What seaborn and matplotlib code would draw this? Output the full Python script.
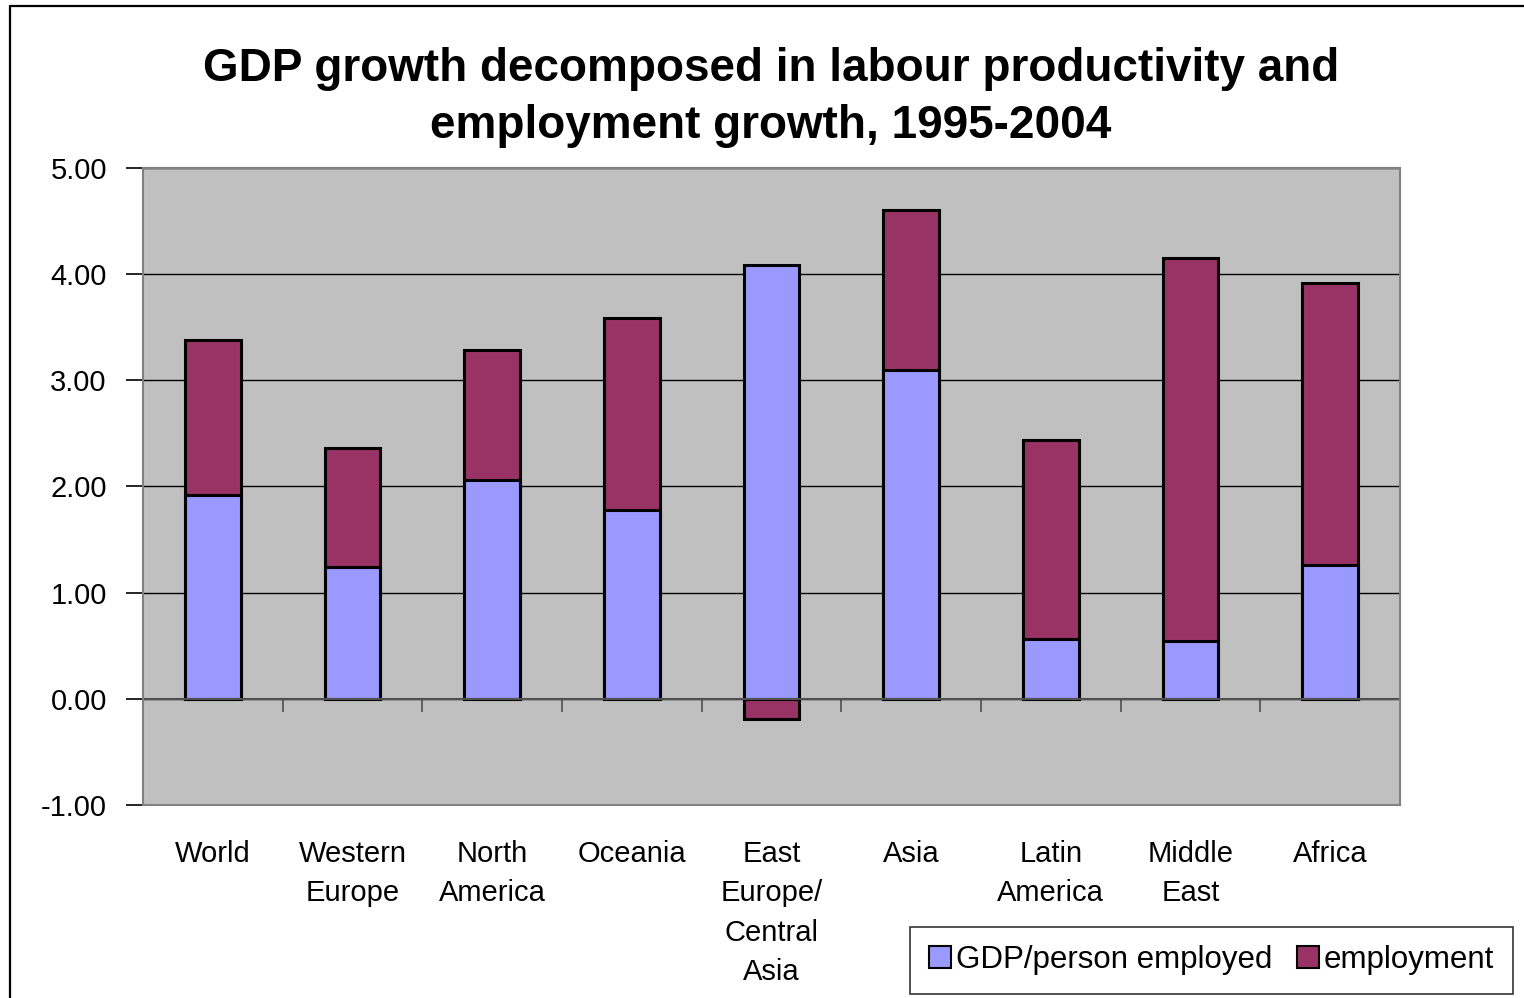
import numpy as np
import pandas as pd
import matplotlib
matplotlib.use("Agg")
import matplotlib.pyplot as plt
from matplotlib.patches import Patch
from matplotlib.lines import Line2D
import seaborn as sns

regions = ["World", "Western\nEurope", "North\nAmerica", "Oceania",
           "East\nEurope/\nCentral\nAsia", "Asia", "Latin\nAmerica",
           "Middle\nEast", "Africa"]
gdp_per_person = [1.92, 1.24, 2.06, 1.78, 4.09, 3.10, 0.56, 0.54, 1.26]
employment = [1.46, 1.12, 1.23, 1.81, -0.19, 1.50, 1.88, 3.61, 2.66]
y_ticks = [-1.0, 0.0, 1.0, 2.0, 3.0, 4.0, 5.0]

GDP_COLOR = "#9999FF"
EMP_COLOR = "#993366"
PLOT_BG = "#C0C0C0"

sns.set_theme(style="white")
plt.rcParams["font.family"] = ["Liberation Sans", "DejaVu Sans"]
plt.rcParams["text.color"] = "black"
plt.rcParams["xtick.color"] = "black"
plt.rcParams["ytick.color"] = "black"

gdp = np.array(gdp_per_person)
emp = np.array(employment)
# positive employment stacks on top of GDP/person, negative goes below zero
emp_top = np.where(emp >= 0, gdp + emp, emp)

df = pd.DataFrame({"region": regions, "gdp": gdp, "emp_top": emp_top})

fig = plt.figure(figsize=(15.24, 9.98), dpi=100)
ax = fig.add_axes([0.0938, 0.1934, 0.8248, 0.6383])
ax.set_facecolor(PLOT_BG)

bar_kw = dict(width=0.4, edgecolor="black", linewidth=2.2, saturation=1, ax=ax)
sns.barplot(data=df, x="region", y="emp_top", color=EMP_COLOR, **bar_kw)
sns.barplot(data=df, x="region", y="gdp", color=GDP_COLOR, **bar_kw)

ax.set_ylim(-1.0, 5.0)
ax.set_xlim(-0.5, len(regions) - 0.5)
ax.set_yticks(y_ticks)
ax.set_yticklabels([f"{v:.2f}" for v in y_ticks])
ax.yaxis.grid(True, color="black", linewidth=1.0)
ax.set_axisbelow(True)
ax.set_xlabel("")
ax.set_ylabel("")

for side in ["top", "right", "bottom", "left"]:
    ax.spines[side].set_color("#808080")
    ax.spines[side].set_linewidth(1.5)

ax.tick_params(axis="y", which="major", direction="out", length=12, width=1.2,
               color="black", labelcolor="black", labelsize=21, pad=14, left=True)
ax.tick_params(axis="x", which="major", length=0, labelsize=21, labelcolor="black", pad=25)
for lbl in ax.get_xticklabels():
    lbl.set_linespacing(1.52)
    lbl.set_verticalalignment("top")

# category axis at zero with tick marks between categories
ax.axhline(0, color="#505050", linewidth=1.5, zorder=1.5)
zero_axis = ax.secondary_xaxis(1.0 / 6.0)
zero_axis.set_xticks(np.arange(0.5, len(regions) - 1, 1.0))
zero_axis.set_xticklabels([])
zero_axis.tick_params(direction="out", length=9, width=1.2, color="#505050")
zero_axis.spines["bottom"].set_visible(False)

fig.text(0.506, 0.902, "GDP growth decomposed in labour productivity and\nemployment growth, 1995-2004",
         ha="center", va="center", fontsize=33, fontweight="bold", linespacing=1.38,
         color="black")

handles = [Patch(facecolor=GDP_COLOR, edgecolor="black", linewidth=1.5, label="GDP/person employed"),
           Patch(facecolor=EMP_COLOR, edgecolor="black", linewidth=1.5, label="employment")]
leg = fig.legend(handles=handles, loc="lower right", bbox_to_anchor=(0.9925, 0.004),
                 borderaxespad=0, ncol=2, fontsize=22.5, frameon=True, fancybox=False,
                 handlelength=0.7, handleheight=0.7, handletextpad=0.15,
                 columnspacing=0.8, borderpad=0.6)
leg.get_frame().set_edgecolor("black")
leg.get_frame().set_linewidth(1.2)

# chart border along the left and top edges
fig.add_artist(Line2D([0.0066, 0.0066], [0.0, 0.994], transform=fig.transFigure,
                      color="black", linewidth=1.6))
fig.add_artist(Line2D([0.0066, 1.0], [0.994, 0.994], transform=fig.transFigure,
                      color="black", linewidth=1.6))

fig.savefig("out.png", dpi=100)
